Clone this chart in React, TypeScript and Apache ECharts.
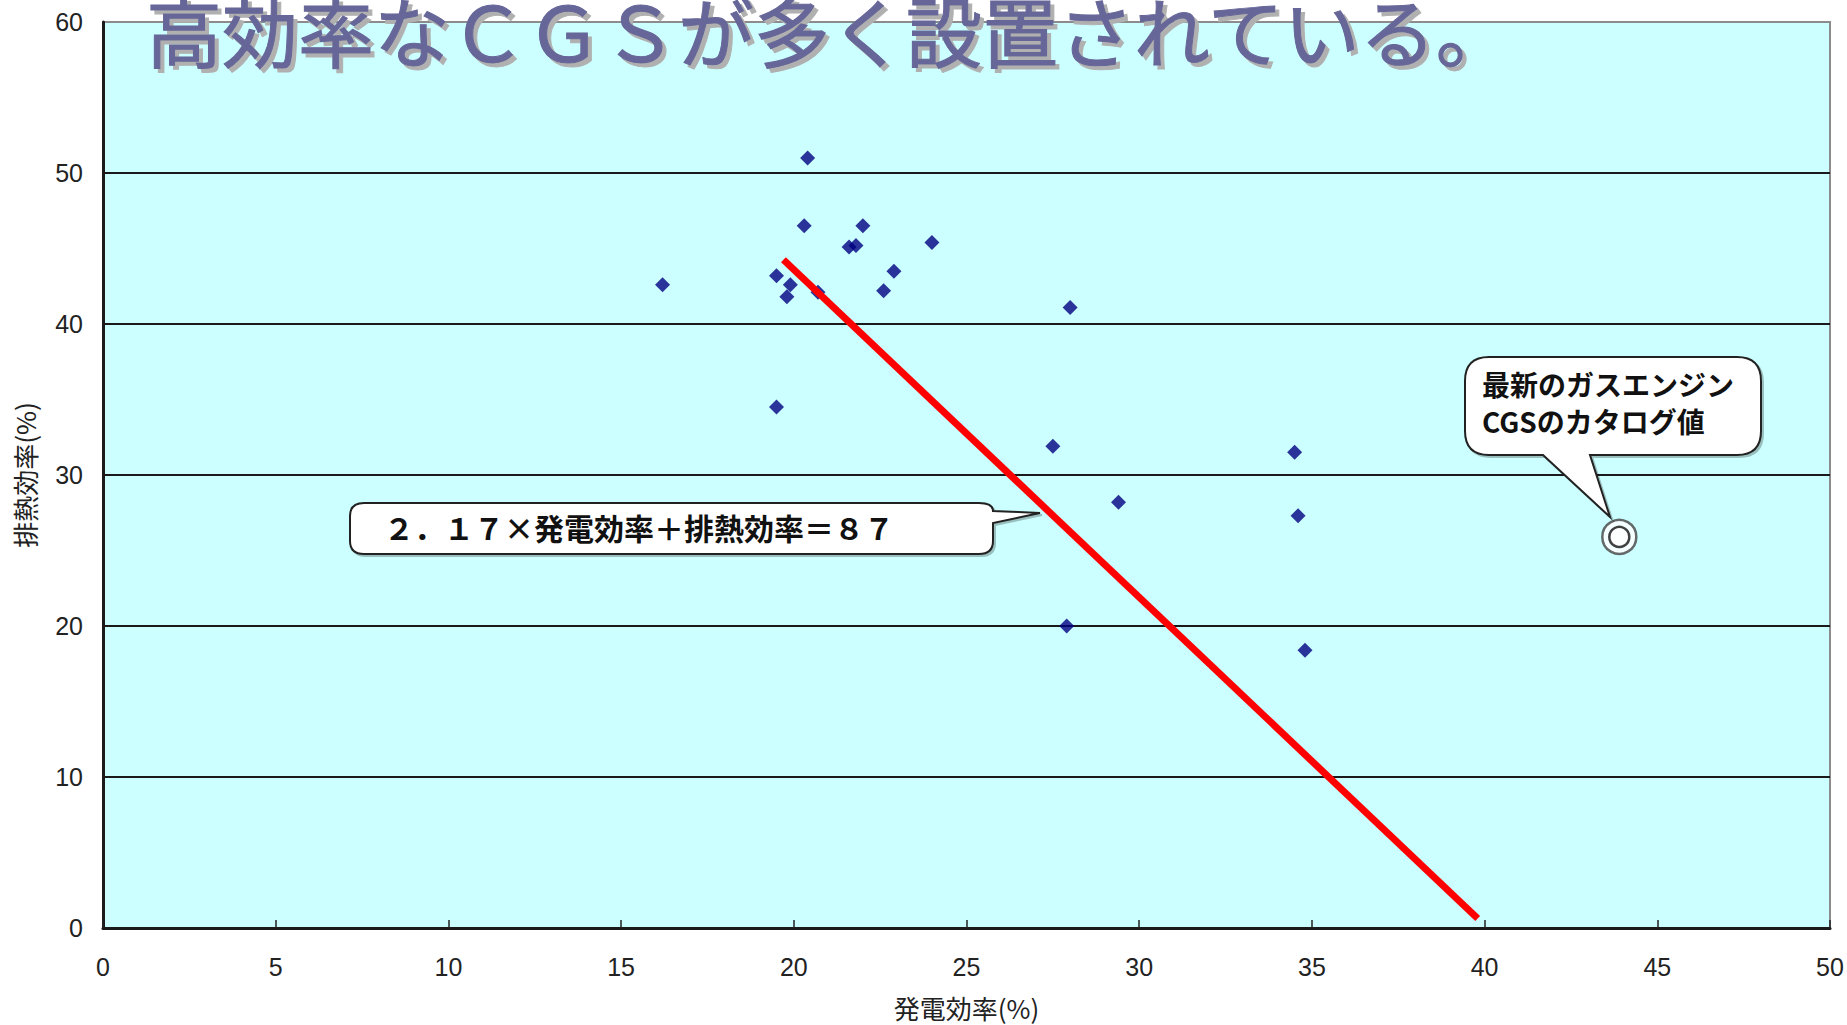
import React, { useEffect, useRef } from "react";
import * as echarts from "echarts";

// 発電効率(%) and 排熱効率(%) of installed CGS units
const powerEff = [16.2, 19.5, 19.9, 19.8, 20.7, 20.3, 20.4, 22.0, 21.6, 21.8, 24.0, 22.9, 22.6, 28.0, 19.5, 27.5, 34.5, 29.4, 34.6, 27.9, 34.8];
const heatEff = [42.6, 43.2, 42.6, 41.8, 42.1, 46.5, 51.0, 46.5, 45.1, 45.2, 45.4, 43.5, 42.2, 41.1, 34.5, 31.9, 31.5, 28.2, 27.3, 20.0, 18.4];

// catalog value of the latest gas-engine CGS
const catalogPoint = [43.9, 25.9];

// boundary line: 2.17 × 発電効率 + 排熱効率 = 87
const fitSlope = 2.17;
const fitTotal = 87;
const fitRange = [19.7, 39.8];

const xRange = [0, 50, 5];
const yRange = [0, 60, 10];

const titleText = "高効率なＣＧＳが多く設置されている。";
const formulaText = "２．１７×発電効率＋排熱効率＝８７";
const catalogText = "最新のガスエンジン\nCGSのカタログ値";
const xName = "発電効率(%)";
const yName = "排熱効率(%)";

// speech-bubble outlines
const bubbleRight =
  "M 1489 357 L 1737 357 Q 1761 357 1761 381 L 1761 431 Q 1761 455 1737 455 L 1590 455 L 1610 517 L 1543 455 L 1489 455 Q 1465 455 1465 431 L 1465 381 Q 1465 357 1489 357 Z";
const bubbleLeft =
  "M 364 503 L 979 503 Q 993 503 993 511 L 1040 513 L 993 523 L 993 541 Q 993 554 979 554 L 364 554 Q 350 554 350 541 L 350 516 Q 350 503 364 503 Z";

echarts.graphic.registerShape("bubbleRight", echarts.graphic.extendPath(bubbleRight, {}));
echarts.graphic.registerShape("bubbleLeft", echarts.graphic.extendPath(bubbleLeft, {}));

const tickFont = "Liberation Sans";
const jpFont = '"Noto Sans CJK JP", sans-serif';

export default function App() {
  const ref = useRef<HTMLDivElement>(null);

  useEffect(() => {
    if (!ref.current) return;
    const chart = echarts.init(ref.current, null, { renderer: "svg" });

    const points = powerEff.map((x, i) => [x, heatEff[i]]);
    const fitLine = fitRange.map((x) => [x, fitTotal - fitSlope * x]);

    const bubbleStyle = {
      fill: "#ffffff",
      stroke: "#222",
      lineWidth: 2,
      shadowColor: "rgba(0,0,0,0.25)",
      shadowOffsetX: 2,
      shadowOffsetY: 2,
    };

    chart.setOption({
      animation: false,
      backgroundColor: "#ffffff",
      grid: {
        left: 103,
        right: 17,
        top: 22,
        bottom: 95,
        show: true,
        backgroundColor: "#ccffff",
        borderColor: "#8c8c8c",
        borderWidth: 2,
      },
      xAxis: {
        type: "value",
        min: xRange[0],
        max: xRange[1],
        interval: xRange[2],
        name: xName,
        nameLocation: "middle",
        nameGap: 66,
        nameTextStyle: { fontFamily: jpFont, fontSize: 26, color: "#222" },
        axisLine: { lineStyle: { color: "#1a1a1a", width: 3 } },
        axisTick: { inside: true, length: 8, lineStyle: { color: "#222", width: 1.5 } },
        axisLabel: { margin: 26, fontSize: 25, fontFamily: tickFont, color: "#222" },
        splitLine: { show: false },
      },
      yAxis: {
        type: "value",
        min: yRange[0],
        max: yRange[1],
        interval: yRange[2],
        name: yName,
        nameLocation: "middle",
        nameGap: 66,
        nameTextStyle: { fontFamily: jpFont, fontSize: 26, color: "#222" },
        axisLine: { lineStyle: { color: "#1a1a1a", width: 3 } },
        axisTick: { show: false },
        axisLabel: { margin: 20, fontSize: 25, fontFamily: tickFont, color: "#222" },
        splitLine: {
          show: true,
          showMinLine: false,
          showMaxLine: false,
          lineStyle: { color: "#1a1a1a", width: 2 },
        },
      },
      series: [
        {
          type: "scatter",
          data: points,
          symbol: "diamond",
          symbolSize: 15,
          itemStyle: { color: "#000080" },
          z: 3,
        },
        {
          type: "line",
          data: fitLine,
          symbol: "none",
          lineStyle: { color: "#ff0000", width: 7 },
          z: 4,
        },
        {
          type: "scatter",
          data: [catalogPoint],
          symbol: "circle",
          symbolSize: 34,
          itemStyle: { color: "#ffffff", borderColor: "#444", borderWidth: 2.5 },
          z: 5,
        },
        {
          type: "scatter",
          data: [catalogPoint],
          symbol: "circle",
          symbolSize: 20,
          itemStyle: { color: "#ffffff", borderColor: "#111", borderWidth: 2.5 },
          z: 6,
        },
      ],
      graphic: [
        { type: "bubbleRight", x: 0, y: 0, z: 50, style: bubbleStyle },
        {
          type: "text",
          x: 1482,
          y: 402,
          z: 51,
          style: {
            text: catalogText,
            fontFamily: jpFont,
            fontWeight: "bold",
            fontSize: 28,
            lineHeight: 37,
            fill: "#111",
            verticalAlign: "middle",
            align: "left",
          },
        },
        { type: "bubbleLeft", x: 0, y: 0, z: 50, style: bubbleStyle },
        {
          type: "text",
          x: 384,
          y: 527,
          z: 51,
          style: {
            text: formulaText,
            fontFamily: jpFont,
            fontWeight: "bold",
            fontSize: 30,
            fill: "#111",
            verticalAlign: "middle",
            align: "left",
          },
        },
        {
          type: "text",
          x: 146,
          y: 29,
          z: 100,
          style: {
            text: titleText,
            fontFamily: jpFont,
            fontSize: 76,
            fill: "#666699",
            stroke: "#666699",
            lineWidth: 1,
            verticalAlign: "middle",
            align: "left",
            textShadowColor: "#b0b0b0",
            textShadowOffsetX: 4,
            textShadowOffsetY: 4,
            textShadowBlur: 1,
          },
        },
      ],
    });

    return () => chart.dispose();
  }, []);

  return (
    <div
      ref={ref}
      style={{ position: "fixed", left: 0, top: 0, width: 1847, height: 1025 }}
    />
  );
}
